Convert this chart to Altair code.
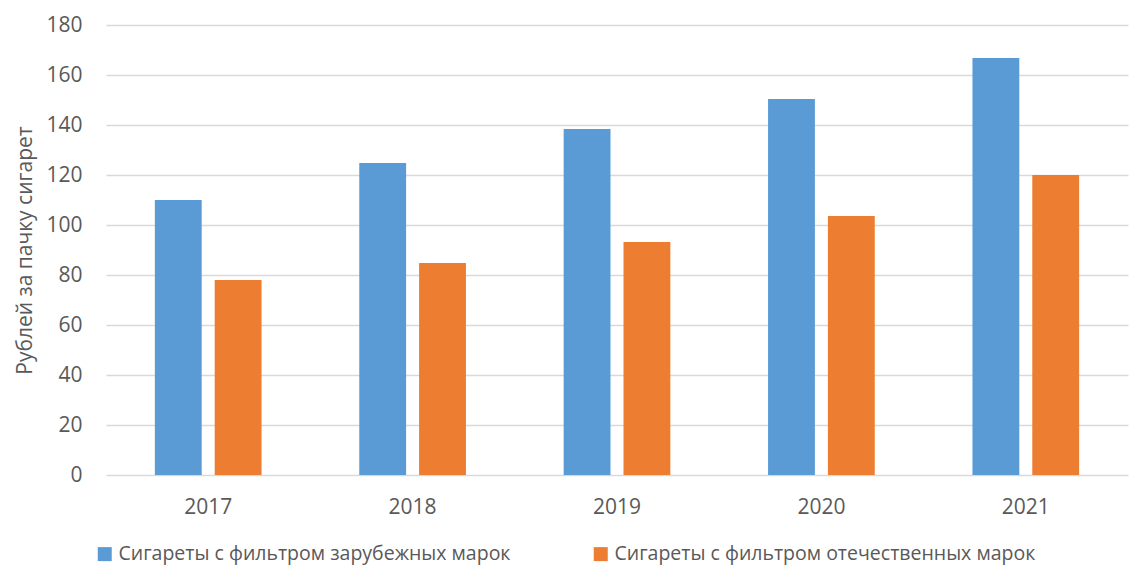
import altair as alt
import pandas as pd

years = ["2017", "2018", "2019", "2020", "2021"]
series = ["Сигареты с фильтром зарубежных марок", "Сигареты с фильтром отечественных марок"]
foreign = [110, 124.8, 138.4, 150.4, 166.8]
domestic = [78, 84.8, 93.2, 103.6, 120]
colors = ["#5B9BD5", "#ED7D31"]

rows = []
for i, y in enumerate(years):
    rows.append({"year": y, "series": series[0], "value": foreign[i]})
    rows.append({"year": y, "series": series[1], "value": domestic[i]})
df = pd.DataFrame(rows)

FONT = "Open Sans"
TXT = "#595959"

chart = alt.Chart(df).mark_bar().encode(
    x=alt.X("year:N", title=None, sort=years,
            scale=alt.Scale(paddingInner=0.478, paddingOuter=0.239),
            axis=alt.Axis(labelAngle=0, labelFontSize=21, labelColor=TXT, labelFont=FONT,
                          ticks=False, domain=False, labelPadding=21)),
    xOffset=alt.XOffset("series:N", sort=series, scale=alt.Scale(paddingInner=0.217, paddingOuter=0)),
    y=alt.Y("value:Q", title="Рублей за пачку сигарет",
            scale=alt.Scale(domain=[0, 180], nice=False),
            axis=alt.Axis(values=list(range(0, 181, 20)), labelFontSize=21, labelColor=TXT,
                          labelFont=FONT, ticks=False, domain=False, labelPadding=24,
                          gridColor="#D9D9D9", gridWidth=1.5,
                          titleFont=FONT, titleFontSize=21, titleFontWeight="normal",
                          titleColor=TXT, titlePadding=10)),
    color=alt.Color("series:N", sort=series, scale=alt.Scale(domain=series, range=colors),
                    legend=alt.Legend(title=None, orient="none", legendX=-11, legendY=519,
                                      direction="horizontal", columns=2, symbolType="square",
                                      symbolSize=196, symbolStrokeWidth=0, labelFont=FONT,
                                      labelFontSize=19.5, labelColor=TXT, labelLimit=600,
                                      columnPadding=80, symbolOffset=0, labelOffset=4)),
).properties(
    width=1022, height=450,
    autosize=alt.AutoSizeParams(type="none"),
    padding={"left": 98, "top": 17, "right": 5, "bottom": 95},
).configure_view(stroke=None)

chart.save("out.html", embed_options={"renderer": "svg", "actions": False})
